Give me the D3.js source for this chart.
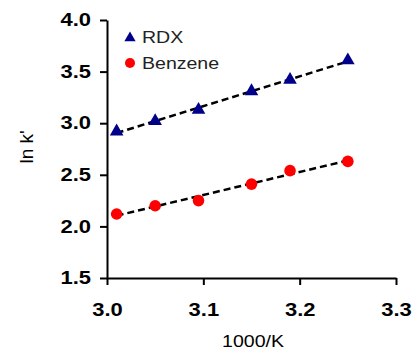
<!DOCTYPE html>
<html><head><meta charset="utf-8">
<script src="https://cdn.jsdelivr.net/npm/d3@7"></script>
<style>body{margin:0;background:#fff}svg{display:block}</style>
</head><body>
<svg id="c" width="415" height="352"></svg>
<script>
const xValues = [3.01, 3.05, 3.095, 3.15, 3.19, 3.25];
const rdx = [2.92, 3.02, 3.13, 3.31, 3.42, 3.61];
const benzene = [2.12, 2.20, 2.25, 2.41, 2.54, 2.63];
const xTicks = [3.0, 3.1, 3.2, 3.3];
const yTicks = [1.5, 2.0, 2.5, 3.0, 3.5, 4.0];
const seriesNames = ["RDX", "Benzene"];

const FONT = "Liberation Sans, Arial, sans-serif";
const SX = 1.22;
const svg = d3.select("#c");
const x = d3.scaleLinear().domain([3.0, 3.3]).range([107, 396]);
const y = d3.scaleLinear().domain([1.5, 4.0]).range([278, 20]);

const xAxis = svg.append("g").attr("transform", "translate(0,278)")
  .call(d3.axisBottom(x).tickValues(xTicks).tickFormat(d3.format(".1f")).tickSize(7).tickSizeOuter(0).tickPadding(18));
const yAxis = svg.append("g").attr("transform", "translate(107,0)")
  .call(d3.axisLeft(y).tickValues(yTicks).tickFormat(d3.format(".1f")).tickSize(7).tickSizeOuter(0).tickPadding(9));
[xAxis, yAxis].forEach(a => {
  a.selectAll("path, line").attr("stroke", "#000").attr("stroke-width", 2);
  a.selectAll("text").attr("font-family", FONT)
    .attr("font-size", 18).attr("font-weight", "bold").attr("fill", "#000")
    .attr("transform", `scale(${SX},1)`);
});
yAxis.selectAll("text").attr("x", -16 / SX);

function fit(xs, ys) {
  const mx = d3.mean(xs), my = d3.mean(ys);
  const b = d3.sum(xs, (v, i) => (v - mx) * (ys[i] - my)) / d3.sum(xs, v => (v - mx) * (v - mx));
  return t => my + b * (t - mx);
}
const x0 = xValues[0], x1 = xValues[xValues.length - 1];
[rdx, benzene].forEach(s => {
  const f = fit(xValues, s);
  svg.append("line").attr("x1", x(x0)).attr("y1", y(f(x0))).attr("x2", x(x1)).attr("y2", y(f(x1)))
    .attr("stroke", "#000").attr("stroke-width", 2.5).attr("stroke-dasharray", "7,4");
});

const tri = d3.symbol().type(d3.symbolTriangle).size(80);
svg.selectAll(".rdx").data(rdx).join("path")
  .attr("d", tri).attr("fill", "#00008b")
  .attr("transform", (d, i) => `translate(${x(xValues[i])},${y(d)})`);
svg.selectAll(".bz").data(benzene).join("circle")
  .attr("cx", (d, i) => x(xValues[i])).attr("cy", d => y(d)).attr("r", 5.8).attr("fill", "#ff0000");

// legend
const lg = svg.append("g");
lg.append("path").attr("d", d3.symbol().type(d3.symbolTriangle).size(55)).attr("fill", "#00008b")
  .attr("transform", "translate(130,38)");
lg.append("circle").attr("cx", 130).attr("cy", 63).attr("r", 5).attr("fill", "#ff0000");
lg.selectAll("text").data(seriesNames).join("text")
  .attr("transform", (d, i) => `translate(142,${43 + i * 26}) scale(1.15,1)`).text(d => d)
  .attr("font-family", FONT).attr("font-size", 17).attr("fill", "#222");

svg.append("text").attr("transform", "translate(33,147) rotate(-90)").attr("text-anchor", "middle")
  .attr("font-family", FONT).attr("font-size", 19).attr("fill", "#000")
  .text("ln k'");
svg.append("text").attr("transform", "translate(253,347) scale(1.15,1)").attr("text-anchor", "middle")
  .attr("font-family", FONT).attr("font-size", 17).attr("fill", "#000")
  .text("1000/K");
</script>
</body></html>
